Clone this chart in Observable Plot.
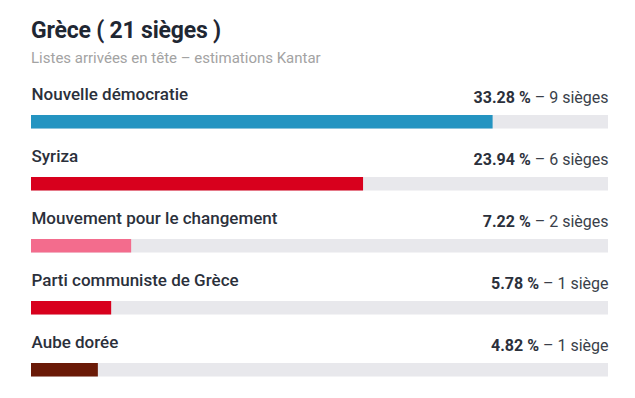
<!DOCTYPE html>
<html><head><meta charset="utf-8">
<script src="https://cdn.jsdelivr.net/npm/d3@7"></script>
<script src="https://cdn.jsdelivr.net/npm/@observablehq/plot@0.6"></script>
<style>
body{margin:0;background:#fff;font-family:Roboto,"Liberation Sans",sans-serif;}
#wrap{position:relative;width:635px;height:398px;}
h1{position:absolute;left:31px;top:17px;margin:0;font-size:23px;font-weight:700;color:#1f2733;letter-spacing:-0.2px;}
.sub{position:absolute;left:31px;top:49px;margin:0;font-size:15px;color:#a3a3a3;}
#chart{position:absolute;left:0;top:83px;}
</style></head>
<body><div id="wrap">
<h1>Grèce ( 21 sièges )</h1>
<p class="sub">Listes arrivées en tête – estimations Kantar</p>
<div id="chart"></div>
</div>
<script>
const parties = ["Nouvelle démocratie","Syriza","Mouvement pour le changement","Parti communiste de Grèce","Aube dorée"];
const shares = [33.28, 23.94, 7.22, 5.78, 4.82];
const seats = [9, 6, 2, 1, 1];
const colors = ["#2494c1","#d8001d","#f36c8d","#d8001d","#6a1a07"];

const data = parties.map((p,i)=>({party:p, share:shares[i], seats:seats[i], color:colors[i],
  pct: shares[i].toFixed(2)+" %", rest:" – "+seats[i]+(seats[i]>1?" sièges":" siège")}));
const xmax = d3.max(shares)*1.25;
const rowH = 62.5;

const plot = Plot.plot({
  width:635, height: rowH*parties.length,
  marginLeft:31, marginRight:27, marginTop:0, marginBottom:0,
  x:{domain:[0,xmax], axis:null},
  y:{domain:parties, axis:null, padding:0},
  style:{fontFamily:"Roboto, sans-serif", background:"transparent"},
  marks:[
    Plot.barX(data,{y:"party", x1:0, x2:xmax, fill:"#e8e8ec", insetTop:31, insetBottom:17.5}),
    Plot.barX(data,{y:"party", x:"share", fill:"color", insetTop:31, insetBottom:17.5}),
    Plot.text(data,{y:"party", x:0, text:"party", textAnchor:"start", dy:-20.5, fontSize:17, fill:"#2b303b", fontWeight:500}),
    Plot.text(data,{y:"party", x:xmax, text:d=>d.pct+"|"+d.rest, textAnchor:"end", dy:-18, fontSize:16, fill:"#2b303b", className:"val"})
  ]
});
d3.select(plot).selectAll(".val text").each(function(){
  const t = d3.select(this); const [a,b] = t.text().split("|");
  t.text(null);
  t.append("tspan").attr("font-weight",700).text(a);
  t.append("tspan").attr("fill","#3a3f4a").text(b);
});
document.getElementById("chart").appendChild(plot);
</script>
</body></html>
